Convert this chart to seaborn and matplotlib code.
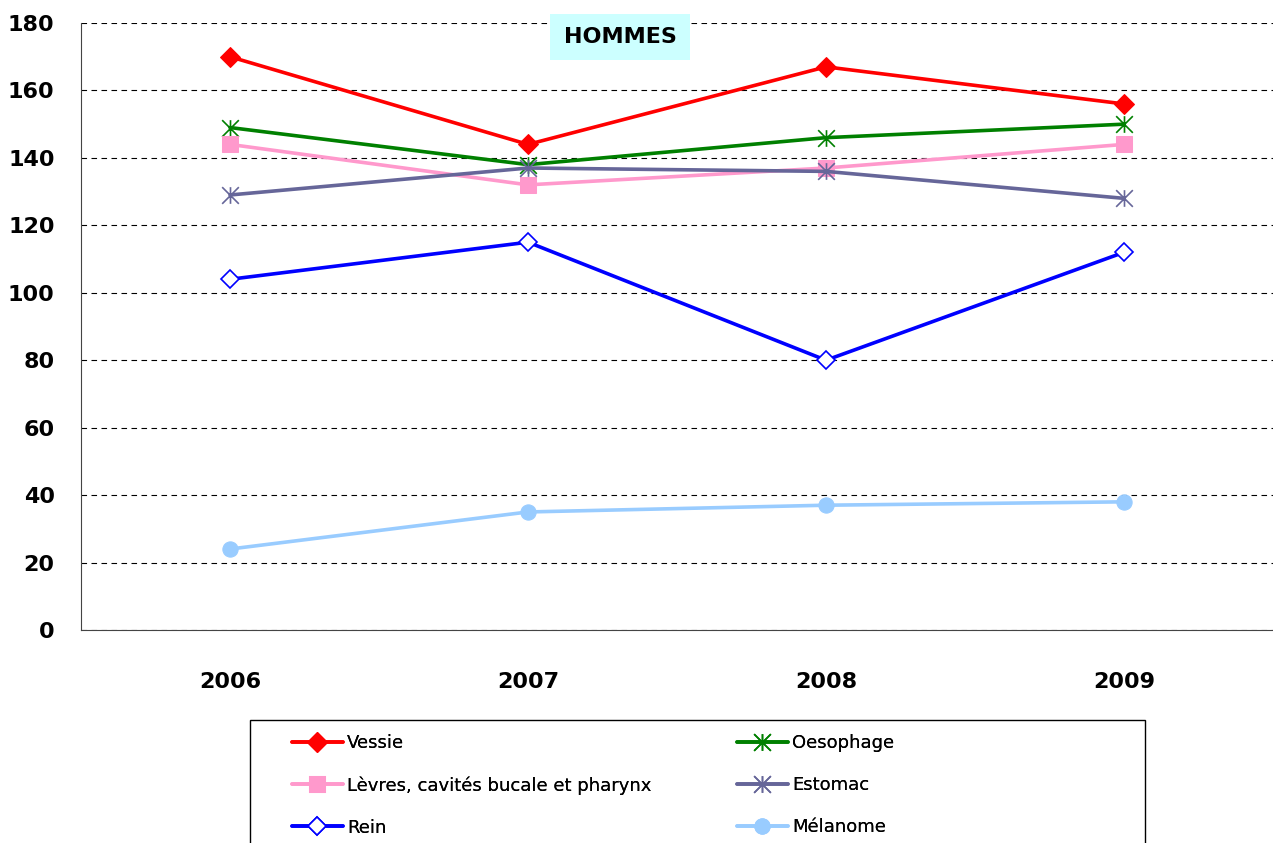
import numpy as np
import pandas as pd
import matplotlib
matplotlib.use('Agg')
import matplotlib.pyplot as plt
from matplotlib.path import Path
from matplotlib.patches import Rectangle
import seaborn as sns

# Data
years = ['2006', '2007', '2008', '2009']
vessie = [170, 144, 167, 156]
oesophage = [149, 138, 146, 150]
levres = [144, 132, 137, 144]
estomac = [129, 137, 136, 128]
rein = [104, 115, 80, 112]
melanome = [24, 35, 37, 38]

# Excel-like star marker: an X with a vertical bar
star = Path([(-1, -1), (1, 1), (-1, 1), (1, -1), (0, -1), (0, 1)],
            [Path.MOVETO, Path.LINETO, Path.MOVETO, Path.LINETO, Path.MOVETO, Path.LINETO])

series = [
    ('Vessie', vessie, '#FF0000', dict(marker='D', markersize=10, markerfacecolor='#FF0000', markeredgecolor='#FF0000')),
    ('Oesophage', oesophage, '#008000', dict(marker=star, markersize=12, markeredgewidth=1.2, markeredgecolor='#008000')),
    ('Lèvres, cavités bucale et pharynx', levres, '#FF99CC', dict(marker='s', markersize=11, markerfacecolor='#FF99CC', markeredgecolor='#FF99CC')),
    ('Estomac', estomac, '#666699', dict(marker=star, markersize=12, markeredgewidth=1.2, markeredgecolor='#666699')),
    ('Rein', rein, '#0000FF', dict(marker='D', markersize=9, markerfacecolor='white', markeredgecolor='#0000FF', markeredgewidth=1.2)),
    ('Mélanome', melanome, '#99CCFF', dict(marker='o', markersize=11, markerfacecolor='#99CCFF', markeredgecolor='#99CCFF')),
]

sns.set_style('white')
plt.rcParams['font.family'] = ['DejaVu Sans']
plt.rcParams['text.color'] = 'black'
plt.rcParams['xtick.color'] = 'black'
plt.rcParams['ytick.color'] = 'black'

fig = plt.figure(figsize=(12.73, 8.43), dpi=100)
ax = fig.add_axes([0.0636, 0.2527, 0.9364, 0.72])

x = np.arange(len(years))
for name, vals, col, mk in series:
    sns.lineplot(x=x, y=vals, color=col, linewidth=2.6, ax=ax, label=name, **mk)

ax.set_xlim(-0.5, 3.5)
ax.set_ylim(0, 180)
ax.set_yticks(range(0, 181, 20))
ax.set_xticks(x)
ax.set_xticklabels(years)
ax.set_xticks([-0.5, 0.5, 1.5, 2.5, 3.5], minor=True)
ax.tick_params(axis='x', which='major', length=0, pad=30, labelsize=16, labelcolor='black')
ax.tick_params(axis='x', which='minor', length=6, width=0.8, direction='out', color='#444444')
ax.tick_params(axis='y', length=5, width=0.8, direction='out', pad=14, labelsize=16, color='#444444', labelcolor='black')
for lab in ax.get_xticklabels() + ax.get_yticklabels():
    lab.set_fontweight('bold')

ax.yaxis.grid(True, linestyle=(0, (5, 4)), color='black', linewidth=0.8)
ax.xaxis.grid(False)
for s in ['top', 'right']:
    ax.spines[s].set_visible(False)
ax.spines['left'].set_color('#444444')
ax.spines['bottom'].set_color('#444444')
ax.set_xlabel('')
ax.set_ylabel('')

fig.text(620 / 1273, 1 - 37 / 843, 'HOMMES', ha='center', va='center', fontsize=16, fontweight='bold',
         bbox=dict(boxstyle='square,pad=0.6', facecolor='#CCFFFF', edgecolor='none'))

# legend: frame drawn by hand, entries laid out row by row in two columns
handles, labels = ax.get_legend_handles_labels()
ax.get_legend().remove()
fig.patches.append(Rectangle((250 / 1273, -0.05), 895 / 1273, 0.05 + (843 - 720) / 843,
                             transform=fig.transFigure, facecolor='white', edgecolor='black', linewidth=1.0))
for col, x0 in [(0, 292), (1, 737)]:
    leg = fig.legend(handles[col::2], labels[col::2], loc='upper left',
                     bbox_to_anchor=(x0 / 1273, 1 - 734 / 843), frameon=False, fontsize=13,
                     handlelength=2.8, handletextpad=0.25, labelspacing=1.33, borderpad=0, borderaxespad=0)
    fig.add_artist(leg)

fig.savefig('out.png', dpi=100)
